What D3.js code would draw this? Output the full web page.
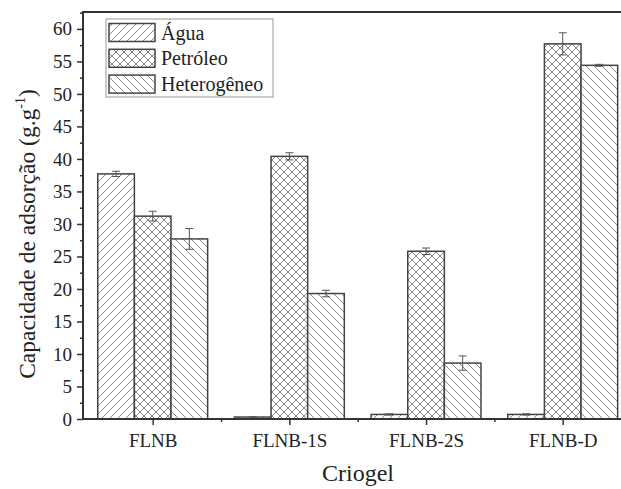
<!DOCTYPE html>
<html>
<head>
<meta charset="utf-8">
<script src="https://cdn.jsdelivr.net/npm/d3@7"></script>
</head>
<body style="margin:0">
<svg id="chart" width="621" height="489" font-family="Liberation Serif" style="font-family: 'Liberation Serif'"></svg>
<script>
// Adsorption capacity per cryogel and liquid
const categories = ["FLNB", "FLNB-1S", "FLNB-2S", "FLNB-D"];
const seriesNames = ["Água", "Petróleo", "Heterogêneo"];
const aguaValues = [37.7, 0.3, 0.7, 0.7];
const aguaErrors = [0.4, 0.05, 0.1, 0.1];
const petroleoValues = [31.2, 40.4, 25.8, 57.7];
const petroleoErrors = [0.75, 0.55, 0.5, 1.7];
const heteroValues = [27.7, 19.3, 8.6, 54.4];
const heteroErrors = [1.6, 0.5, 1.1, 0.15];
const yTicks = [0, 5, 10, 15, 20, 25, 30, 35, 40, 45, 50, 55, 60];

const FONT = '"Liberation Serif"';

const series = [
  { name: seriesNames[0], values: aguaValues, errors: aguaErrors, pattern: "hatch-fwd" },
  { name: seriesNames[1], values: petroleoValues, errors: petroleoErrors, pattern: "hatch-cross" },
  { name: seriesNames[2], values: heteroValues, errors: heteroErrors, pattern: "hatch-back" }
];

const svg = d3.select("#chart");
const plotLeft = 83, plotTop = 12, plotBottom = 419;

// Serif text helper
function label(sel, size) {
  return sel.attr("font-family", "Liberation Serif").style("font-family", FONT)
    .attr("font-size", size).attr("fill", "#222");
}

// Category positions 1..4; the axis runs past the right edge of the page
const x = d3.scaleLinear().domain([0.49, 4.55]).range([plotLeft, plotLeft + 4.06 * 136.67]);
const y = d3.scaleLinear().domain([0, 62.6]).range([plotBottom, plotTop]);
const barW = 0.268;

// Hatch patterns
const defs = svg.append("defs");
function hatch(id, paths) {
  const p = defs.append("pattern").attr("id", id)
    .attr("patternUnits", "userSpaceOnUse").attr("width", 8).attr("height", 8);
  p.append("rect").attr("width", 8).attr("height", 8).attr("fill", "#fff");
  paths.forEach(d => p.append("path").attr("d", d)
    .attr("stroke", "#7a7a7a").attr("stroke-width", 0.9).attr("fill", "none"));
}
const fwd = "M-2,2 L2,-2 M0,8 L8,0 M6,10 L10,6";
const back = "M-2,6 L2,10 M0,0 L8,8 M6,-2 L10,2";
hatch("hatch-fwd", [fwd]);
hatch("hatch-back", [back]);
hatch("hatch-cross", [fwd, back]);

// Bars with error bars
series.forEach((s, si) => {
  const g = svg.append("g");
  s.values.forEach((v, ci) => {
    const x0 = x(ci + 1 + (si - 1.5) * barW);
    const x1 = x(ci + 1 + (si - 0.5) * barW);
    g.append("rect")
      .attr("x", x0).attr("y", y(v))
      .attr("width", x1 - x0).attr("height", y(0) - y(v))
      .attr("fill", `url(#${s.pattern})`)
      .attr("stroke", "#444").attr("stroke-width", 1.5);
    const cx = (x0 + x1) / 2, e = s.errors[ci];
    const eb = svg.append("g").attr("stroke", "#555").attr("stroke-width", 1);
    eb.append("line").attr("x1", cx).attr("x2", cx).attr("y1", y(v + e)).attr("y2", y(v - e));
    eb.append("line").attr("x1", cx - 4).attr("x2", cx + 4).attr("y1", y(v + e)).attr("y2", y(v + e));
    eb.append("line").attr("x1", cx - 4).attr("x2", cx + 4).attr("y1", y(v - e)).attr("y2", y(v - e));
  });
});

// Y axis (major + minor ticks)
const yAxis = svg.append("g").attr("transform", `translate(${plotLeft},0)`)
  .call(d3.axisLeft(y).tickValues(yTicks).tickSize(6).tickPadding(5));
const yMinor = svg.append("g").attr("transform", `translate(${plotLeft},0)`)
  .call(d3.axisLeft(y).tickValues(yTicks.map(t => t + 2.5)).tickSize(3).tickFormat(""));
// X axis (major + minor ticks)
const xAxis = svg.append("g").attr("transform", `translate(0,${plotBottom})`)
  .call(d3.axisBottom(x).tickValues([1, 2, 3, 4]).tickSize(6).tickPadding(9)
    .tickFormat((d, i) => categories[i]));
const xMinor = svg.append("g").attr("transform", `translate(0,${plotBottom})`)
  .call(d3.axisBottom(x).tickValues([1.5, 2.5, 3.5]).tickSize(3).tickFormat(""));

[yAxis, yMinor, xAxis, xMinor].forEach(a => {
  a.attr("font-family", "Liberation Serif").attr("font-size", 19);
  a.select(".domain").remove();
  a.selectAll(".tick line").attr("stroke", "#333").attr("stroke-width", 1.5);
  label(a.selectAll("text"), 19);
});

// Frame lines
svg.append("line").attr("x1", plotLeft).attr("x2", plotLeft).attr("y1", plotTop).attr("y2", plotBottom + 1)
  .attr("stroke", "#333").attr("stroke-width", 2);
svg.append("line").attr("x1", plotLeft - 1).attr("x2", 621).attr("y1", plotBottom).attr("y2", plotBottom)
  .attr("stroke", "#333").attr("stroke-width", 2);
svg.append("line").attr("x1", plotLeft - 1).attr("x2", 621).attr("y1", plotTop).attr("y2", plotTop)
  .attr("stroke", "#333").attr("stroke-width", 2);

// Axis titles
label(svg.append("text"), 24).attr("x", 358).attr("y", 481).attr("text-anchor", "middle").text("Criogel");

const yt = label(svg.append("text"), 23.5).attr("transform", "translate(35,234) rotate(-90)")
  .attr("text-anchor", "middle");
yt.append("tspan").text("Capacidade de adsorção (g.g");
yt.append("tspan").attr("dy", -10).attr("font-size", 14).text("-1");
yt.append("tspan").attr("dy", 10).text(")");

// Legend
const lg = svg.append("g");
lg.append("rect").attr("x", 106).attr("y", 19).attr("width", 167).attr("height", 78)
  .attr("fill", "#fff").attr("stroke", "#999").attr("stroke-width", 1);
series.forEach((s, i) => {
  const yy = 23.5 + i * 25.8;
  lg.append("rect").attr("x", 109).attr("y", yy).attr("width", 46).attr("height", 18)
    .attr("fill", `url(#${s.pattern})`).attr("stroke", "#444").attr("stroke-width", 1.5);
  label(lg.append("text"), 20).attr("x", 161).attr("y", yy + 16).text(s.name);
});
</script>
</body>
</html>
